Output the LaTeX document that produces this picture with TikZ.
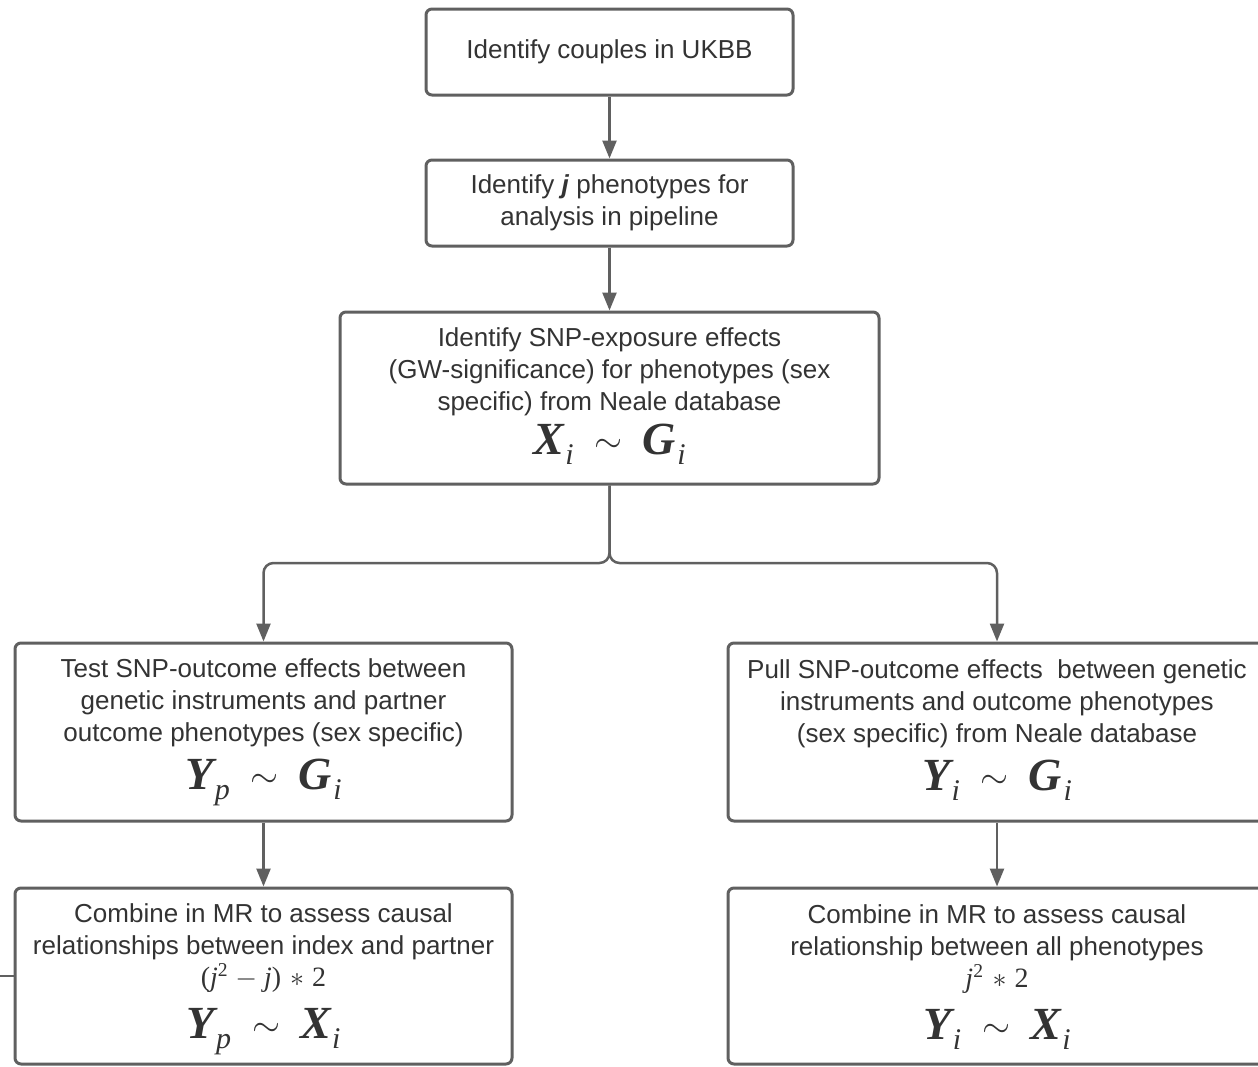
\RequirePackage{fix-cm}
\documentclass[tikz,border=0pt]{standalone}
\usepackage{fontspec}
\setmainfont{Liberation Sans}
\newfontfamily\eqfont{Liberation Serif}
\usetikzlibrary{arrows.meta}

\definecolor{edgegray}{HTML}{606060}
\definecolor{inkgray}{HTML}{333333}

% large regression formula: bold-italic variable with an italic subscript
\newcommand{\eqvar}[2]{{\eqfont\bfseries\itshape #1}\kern1.5pt\raisebox{-0.22em}{\fontsize{30}{30}\selectfont\eqfont\itshape #2}}
\newcommand{\eqtilde}{{\fontsize{36}{36}\selectfont\raisebox{2pt}{$\sim$}}}
\newcommand{\eqrel}[4]{{\fontsize{46}{46}\selectfont\rule[-14pt]{0pt}{32pt}\eqvar{#1}{#2}\hspace{21pt}\eqtilde\hspace{20pt}\eqvar{#3}{#4}}}
% small count formula
\newcommand{\eqcount}[1]{{\fontsize{28}{28}\selectfont\eqfont #1}}
\newcommand{\eqtimes}{\hspace{9pt}\raisebox{0pt}[0pt][0pt]{$\ast$}\hspace{8pt}}

\begin{document}
\begin{tikzpicture}[x=1pt,y=-1pt,
  stepbox/.style={draw=edgegray, line width=3pt, rounded corners=6pt, fill=white,
    inner sep=0pt, align=center, text=inkgray,
    font=\fontsize{26}{32}\selectfont},
  conn/.style={draw=edgegray, line width=2.5pt,
    -{Triangle[length=18pt,width=14pt]}},
  plain/.style={draw=edgegray, line width=2.5pt}]
\useasboundingbox (0,0) rectangle (1258,1066);
\clip (0,0) rectangle (1258,1066);

\node[stepbox, minimum width=367pt, minimum height=86pt] (b1) at (609.5,52)
  {Identify couples in UKBB};
\node[stepbox, minimum width=367pt, minimum height=86pt] (b2) at (609.5,203)
  {Identify \textbf{\textit{j}} phenotypes for\\analysis in pipeline};
\node[stepbox, minimum width=539pt, minimum height=172pt] (b3) at (609.5,398)
  {Identify SNP-exposure effects\\(GW-significance) for phenotypes (sex\\specific) from Neale database\\[7pt]
   \eqrel{X}{i}{G}{i}};
\node[stepbox, minimum width=497pt, minimum height=178pt] (b4) at (263.5,732)
  {Test SNP-outcome effects between\\genetic instruments and partner\\outcome phenotypes (sex specific)\\[11pt]
   \eqrel{Y}{p}{G}{i}};
\node[stepbox, minimum width=538pt, minimum height=178pt] (b5) at (997,732)
  {Pull SNP-outcome effects\ \ between genetic\\instruments and outcome phenotypes\\(sex specific) from Neale database\\[11pt]
   \eqrel{Y}{i}{G}{i}};
\node[stepbox, minimum width=497pt, minimum height=176pt] (b6) at (263.5,976)
  {\rule{0pt}{25pt}Combine in MR to assess causal\\relationships between index and partner\\
   \eqcount{(\textit{j}\textsuperscript{2} $-$ \textit{j})\eqtimes 2}\\[15pt]
   \eqrel{Y}{p}{X}{i}};
\node[stepbox, minimum width=538pt, minimum height=176pt] (b7) at (997,976)
  {\rule{0pt}{25pt}Combine in MR to assess causal\\relationship between all phenotypes\\
   \eqcount{\textit{j}\textsuperscript{2}\eqtimes 2}\\[15pt]
   \eqrel{Y}{i}{X}{i}};

\draw[conn] (b1) -- (b2);
\draw[conn] (b2) -- (b3);

\coordinate (split) at (609.5,563);
\draw[conn, rounded corners=10pt] (b3.south) -- (split) -| (b4.north);
\draw[conn, rounded corners=10pt] (b3.south) -- (split) -| (b5.north);

\draw[conn] (b4) -- (b6);
\draw[conn] (b5) -- (b7);

\coordinate (stub) at (-5,976);
\draw[plain] (stub) -- (b6.west);
\end{tikzpicture}
\end{document}
